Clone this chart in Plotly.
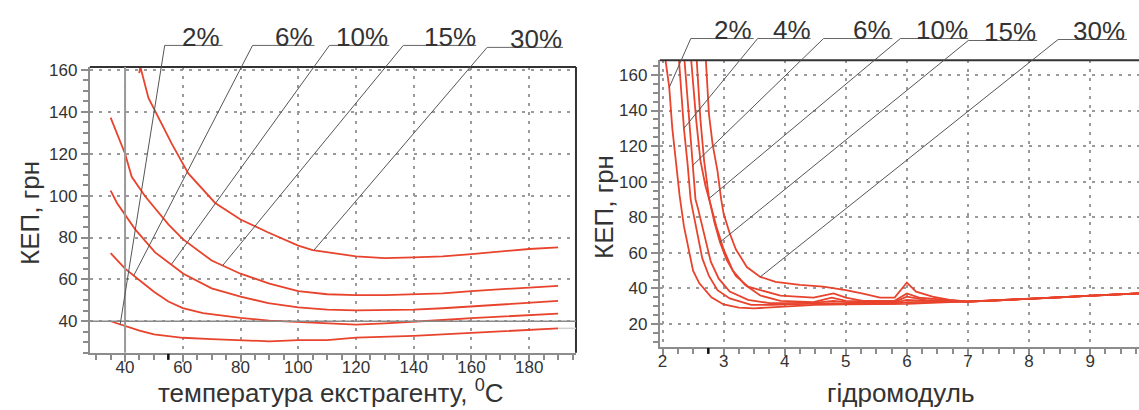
import numpy as np
import plotly.graph_objects as go

W, H = 1139, 410
FONT = "Liberation Sans, Arial, sans-serif"
RED = "#e8432c"
TXT = "#333333"
AXC = "#8c8c8c"
GRID = "#9a9a9a"

# ---------------- Left chart data (temperature) ----------------
L_names = ["2%", "6%", "10%", "15%", "30%"]
L1_x = [35, 40, 45, 50, 60, 70, 80, 90, 100, 110, 120, 130, 140, 150, 160, 170, 180, 190]
L1_y = [40, 37.6, 35.5, 33.7, 32.1, 31.5, 30.9, 30.4, 31.0, 31.0, 32.2, 32.5, 33.0, 33.7, 34.5, 35.3, 35.8, 36.6]
L2_x = [35, 40, 45, 50, 55, 60, 67, 80, 90, 100, 110, 120, 130, 140, 150, 160, 170, 180, 190]
L2_y = [72.5, 65.1, 59.6, 54.1, 49.4, 46.3, 43.9, 41.6, 40.3, 39.7, 38.8, 38.4, 39.0, 39.7, 40.6, 41.5, 42.2, 42.9, 43.6]
L3_x = [35, 37.2, 43.5, 50.4, 60.2, 70, 80, 89.6, 100, 110, 120, 130, 140, 150, 160, 170, 180, 190]
L3_y = [102.4, 96.5, 83.9, 72.9, 62.7, 55.7, 51.8, 48.6, 46.6, 45.5, 45.2, 45.2, 45.5, 46.2, 47.0, 47.8, 48.6, 49.7]
L4_x = [35, 40, 42.3, 47, 55, 60, 70, 80, 90, 100, 110, 120, 130, 140, 150, 160, 170, 180, 190]
L4_y = [137.3, 120, 109, 99.6, 86.3, 79.2, 69, 62.7, 58, 54.4, 52.9, 52.5, 52.5, 52.9, 53.3, 54.4, 55.4, 56.1, 56.9]
L5_x = [44.9, 45.3, 48.1, 50.4, 56.2, 61.9, 71.2, 80, 89.6, 100, 105, 120, 130, 140, 150, 160, 170, 180, 190]
L5_y = [158.5, 161.5, 146.7, 140.4, 124.7, 110.6, 96.5, 88.6, 82.4, 76.1, 74, 71, 70.1, 70.5, 71, 72.1, 73.3, 74.5, 75.3]
L_xticks = [40, 60, 80, 100, 120, 140, 160, 180]
L_yticks = [40, 60, 80, 100, 120, 140, 160]
# where each label's leader meets its curve (x value on curve)
L_leader_x = [38.3, 43.0, 56.0, 73.8, 105.4]

# ---------------- Right chart data (hydromodule) ----------------
R_names = ["2%", "4%", "6%", "10%", "15%", "30%"]
R1_x = [2.05, 2.11, 2.16, 2.22, 2.28, 2.35, 2.43, 2.5, 2.6, 2.8, 3.0, 3.25, 3.5, 3.75, 4.0, 4.5, 5.0, 5.5, 6.0, 6.5, 7.0, 7.5, 8.0, 8.5, 9.0, 9.5, 9.8]
R1_y = [168, 153, 130, 110, 92, 75, 62, 50, 43, 35, 31, 29.2, 28.8, 29.2, 30.0, 30.8, 31.0, 31.0, 31.3, 32.0, 32.6, 33.3, 34.1, 35.0, 35.9, 36.6, 37.2]
R2_x = [2.27, 2.35, 2.41, 2.46, 2.5, 2.57, 2.65, 2.76, 2.9, 3.1, 3.45, 3.8, 4.0, 4.5, 4.8, 5.0, 5.5, 5.8, 6.0, 6.5, 7.0, 7.5, 8.0, 8.5, 9.0, 9.5, 9.8]
R2_y = [168, 130, 110, 90, 83, 70, 57, 47, 39, 34.4, 30.8, 30.8, 31.0, 31.3, 31.7, 31.5, 31.5, 31.5, 32.3, 32.5, 32.6, 33.3, 34.1, 35.0, 35.9, 36.6, 37.2]
R3_x = [2.36, 2.49, 2.54, 2.58, 2.68, 2.79, 2.92, 3.1, 3.4, 3.75, 4.0, 4.5, 4.8, 5.0, 5.5, 5.8, 6.0, 6.3, 7.0, 7.5, 8.0, 8.5, 9.0, 9.5, 9.8]
R3_y = [168, 109, 90, 85, 70, 55, 45.5, 38.2, 33.6, 31.7, 31.7, 32.0, 33.0, 32.3, 32.0, 32.0, 33.5, 33.0, 32.6, 33.3, 34.1, 35.0, 35.9, 36.6, 37.2]
R4_x = [2.47, 2.55, 2.62, 2.7, 2.78, 2.88, 3.0, 3.15, 3.35, 3.6, 3.93, 4.47, 4.77, 5.0, 5.5, 5.8, 6.0, 6.3, 7.0, 7.5, 8.0, 8.5, 9.0, 9.5, 9.8]
R4_y = [168, 135, 112, 98, 88, 75, 62, 50, 42, 36, 33, 32.3, 34.8, 33, 32.5, 32.5, 35.4, 33.5, 32.6, 33.3, 34.1, 35.0, 35.9, 36.6, 37.2]
R5_x = [2.56, 2.62, 2.68, 2.76, 2.85, 2.94, 3.05, 3.2, 3.4, 3.7, 3.93, 4.47, 4.8, 5.0, 5.28, 5.8, 6.0, 6.2, 6.7, 7.0, 7.5, 8.0, 8.5, 9.0, 9.5, 9.8]
R5_y = [168, 135, 112, 91, 77, 66, 56, 47, 41, 38, 35.9, 34.8, 37.2, 34.8, 33, 33, 37.2, 34.8, 33.5, 32.6, 33.3, 34.1, 35.0, 35.9, 36.6, 37.2]
R6_x = [2.71, 2.76, 2.82, 2.9, 2.96, 3.0, 3.1, 3.2, 3.38, 3.6, 3.85, 4.25, 4.63, 5.0, 5.3, 5.56, 5.8, 6.0, 6.15, 6.42, 6.7, 7.0, 7.5, 8.0, 8.5, 9.0, 9.5, 9.8]
R6_y = [168, 138, 121, 106, 90, 82, 71, 62, 52, 46.5, 43.7, 42, 41, 39.1, 37, 34.8, 34.8, 43.3, 38.2, 35.4, 33.5, 32.6, 33.3, 34.1, 35.0, 35.9, 36.6, 37.2]
R_xticks = [2, 3, 4, 5, 6, 7, 8, 9]
R_yticks = [20, 40, 60, 80, 100, 120, 140, 160]
R_leader_x = [2.11, 2.35, 2.49, 2.76, 2.94, 3.6]

# ---------------- Layout constants (pixels) ----------------
LX0, LX1, LYT, LYB = 88, 575, 62, 352
RX0, RX1, RYT, RYB = 659, 1139, 55, 346
L_XR = [27.8, 196.2]
L_YR = [24.9, 161.4]
R_XR = [1.956, 9.80]
R_YR = [7.1, 168.3]

def px_x(v, rng, x0, x1):
    return x0 + (v - rng[0]) / (rng[1] - rng[0]) * (x1 - x0)

def px_y(v, rng, yt, yb):
    return yb - (v - rng[0]) / (rng[1] - rng[0]) * (yb - yt)

def pline(x0, y0, x1, y1, color, width, dash="solid"):
    return dict(type="line", xref="paper", yref="paper",
                x0=x0 / W, y0=1 - y0 / H, x1=x1 / W, y1=1 - y1 / H,
                line=dict(color=color, width=width, dash=dash), layer="above")

fig = go.Figure()
L_series = [(L1_x, L1_y), (L2_x, L2_y), (L3_x, L3_y), (L4_x, L4_y), (L5_x, L5_y)]
R_series = [(R1_x, R1_y), (R2_x, R2_y), (R3_x, R3_y), (R4_x, R4_y), (R5_x, R5_y), (R6_x, R6_y)]

for name, (xs, ys) in zip(L_names, L_series):
    fig.add_trace(go.Scatter(x=xs, y=ys, mode="lines", name=name, xaxis="x", yaxis="y",
                             line=dict(color=RED, width=1.8), showlegend=False))
for name, (xs, ys) in zip(R_names, R_series):
    fig.add_trace(go.Scatter(x=xs, y=ys, mode="lines", name=name, xaxis="x2", yaxis="y2",
                             line=dict(color=RED, width=1.8), showlegend=False))

tickfont = dict(family=FONT, size=17, color=TXT)

def axis_common():
    return dict(showgrid=True, gridcolor=GRID, griddash="3px,6px", gridwidth=1.5,
                showline=True, linecolor=AXC, linewidth=2, ticks="outside", ticklen=7,
                tickwidth=2, tickcolor=AXC, zeroline=False, tickfont=tickfont,
                fixedrange=True)

XSTAND = -9

fig.update_layout(
    width=W, height=H, margin=dict(l=0, r=0, t=0, b=0),
    paper_bgcolor="white", plot_bgcolor="white",
    xaxis=dict(domain=[LX0 / W, LX1 / W], anchor="y", range=L_XR, tickvals=L_xticks,
               ticklabelstandoff=XSTAND,
               minor=dict(tickvals=list(range(30, 196, 5)), ticklen=5, tickwidth=1.5, tickcolor=AXC, showgrid=False),
               **axis_common()),
    yaxis=dict(domain=[1 - LYB / H, 1 - LYT / H], anchor="x", range=L_YR, tickvals=L_yticks,
               minor=dict(tickvals=list(range(25, 161, 5)), ticklen=5, tickwidth=1.5, tickcolor=AXC, showgrid=False),
               **axis_common()),
    xaxis2=dict(domain=[RX0 / W, RX1 / W], anchor="y2", range=R_XR, tickvals=R_xticks,
                ticklabelstandoff=XSTAND,
                minor=dict(tickvals=[2 + 0.25 * i for i in range(32)], ticklen=5, tickwidth=1.5, tickcolor=AXC, showgrid=False),
                **axis_common()),
    yaxis2=dict(domain=[1 - RYB / H, 1 - RYT / H], anchor="x2", range=R_YR, tickvals=R_yticks,
                minor=dict(tickvals=list(range(10, 168, 5)), ticklen=5, tickwidth=1.5, tickcolor=AXC, showgrid=False),
                **axis_common()),
)

shapes = []
# frames
shapes.append(pline(LX0, LYT, LX1, LYT, "#333333", 2))
shapes.append(pline(LX1, LYT, LX1, LYB, "#333333", 2))
shapes.append(pline(RX0, RYT, RX1, RYT, "#333333", 2))
# solid reference lines at 40 in left chart
x40 = px_x(40, L_XR, LX0, LX1)
y40 = px_y(40, L_YR, LYT, LYB)
shapes.append(pline(x40, LYT, x40, LYB, "#9a9a9a", 2))
shapes.append(pline(LX0, y40, LX1, y40, "#8a8a8a", 1.5))
# grey extension of lowest curve
ye = px_y(L1_y[-1], L_YR, LYT, LYB)
shapes.append(pline(px_x(L1_x[-1], L_XR, LX0, LX1), ye, LX1, ye, "#cfcfcf", 1.5))
# small dark marks under axes
shapes.append(pline(px_x(55, L_XR, LX0, LX1), LYB + 1, px_x(55, L_XR, LX0, LX1), LYB + 7, "#111111", 2.5))
shapes.append(pline(px_x(2.75, R_XR, RX0, RX1), RYB + 1, px_x(2.75, R_XR, RX0, RX1), RYB + 7, "#111111", 2.5))

annotations = []
# left labels: (text center x, baseline y, underline x0, underline x1)
L_lab = [(199, 40, 163, 221), (293, 40, 251, 313), (361, 40, 328, 388), (449, 40, 402, 475), (535, 42, 486, 562)]
for name, (xs, ys), lx, (cx, by, u0, u1) in zip(L_names, L_series, L_leader_x, L_lab):
    yv = float(np.interp(lx, xs, ys))
    ex, ey = px_x(lx, L_XR, LX0, LX1), px_y(yv, L_YR, LYT, LYB)
    shapes.append(pline(u0, by, u1, by, "#666666", 1))
    shapes.append(pline(u0, by, ex, ey, "#555555", 1))
    annotations.append(dict(text=name, xref="paper", yref="paper", x=cx / W, y=1 - (by - 9) / H,
                            xanchor="center", yanchor="middle", showarrow=False,
                            font=dict(family=FONT, size=26, color=TXT)))

R_lab = [(732, 33, 690, 753), (791, 33, 757, 810), (872, 33, 823, 892), (942, 33, 900, 968),
         (1010, 35, 968, 1037), (1099, 34, 1058, 1127)]
for name, (xs, ys), lx, (cx, by, u0, u1) in zip(R_names, R_series, R_leader_x, R_lab):
    yv = float(np.interp(lx, xs, ys))
    ex, ey = px_x(lx, R_XR, RX0, RX1), px_y(yv, R_YR, RYT, RYB)
    shapes.append(pline(u0, by, u1, by, "#666666", 1))
    shapes.append(pline(u0, by, ex, ey, "#555555", 1))
    annotations.append(dict(text=name, xref="paper", yref="paper", x=cx / W, y=1 - (by - 9) / H,
                            xanchor="center", yanchor="middle", showarrow=False,
                            font=dict(family=FONT, size=26, color=TXT)))

# axis titles
annotations.append(dict(text="КЕП, грн", xref="paper", yref="paper", x=28 / W, y=1 - 210 / H,
                        textangle=-90, showarrow=False, xanchor="center", yanchor="middle",
                        font=dict(family=FONT, size=26, color=TXT)))
annotations.append(dict(text="КЕП, грн", xref="paper", yref="paper", x=603 / W, y=1 - 204 / H,
                        textangle=-90, showarrow=False, xanchor="center", yanchor="middle",
                        font=dict(family=FONT, size=26, color=TXT)))
annotations.append(dict(text="температура екстрагенту, <sup>0</sup>C", xref="paper", yref="paper",
                        x=330 / W, y=0.0, showarrow=False, xanchor="center", yanchor="bottom",
                        font=dict(family=FONT, size=26, color=TXT)))
annotations.append(dict(text="гідромодуль", xref="paper", yref="paper",
                        x=900 / W, y=0.0, showarrow=False, xanchor="center", yanchor="bottom",
                        font=dict(family=FONT, size=26, color=TXT)))

fig.update_layout(shapes=shapes, annotations=annotations)
fig.write_html("out.html")
